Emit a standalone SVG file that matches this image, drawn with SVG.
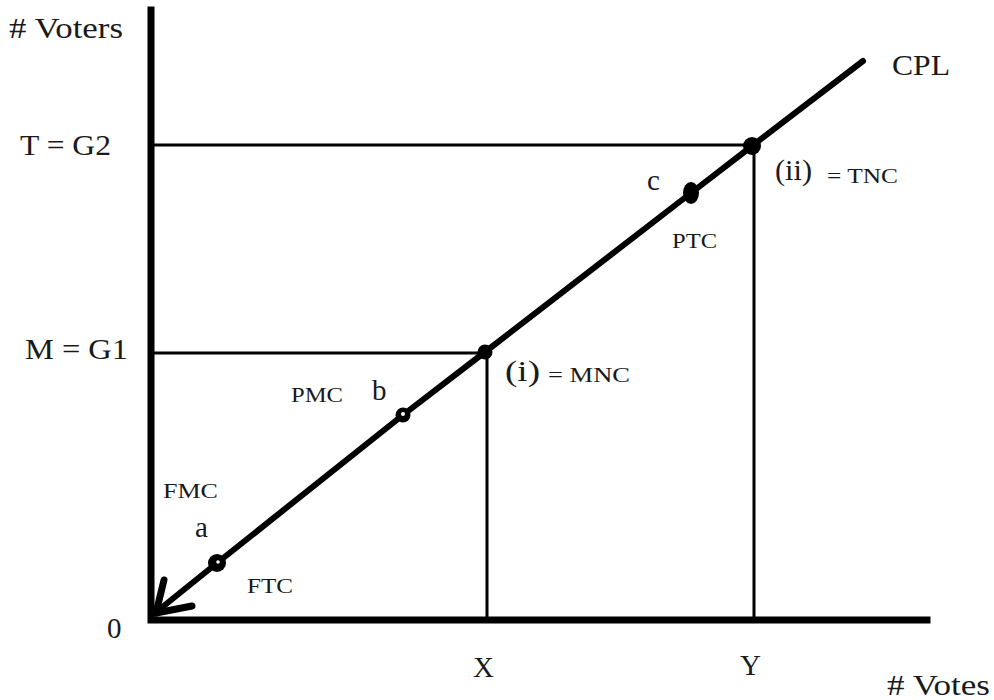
<svg xmlns="http://www.w3.org/2000/svg" width="994" height="700" viewBox="0 0 994 700">
<style>
.big{font-family:"Liberation Serif","Times New Roman",serif;font-size:29px;fill:#1a1a1a}
.sm{font-family:"Liberation Serif","Times New Roman",serif;font-size:22px;fill:#1a1a1a}
.axis{stroke:#000;stroke-width:7;fill:none;stroke-linecap:square}
.guide{stroke:#000;stroke-width:3;fill:none}
.cpl{stroke:#000;stroke-width:6;fill:none;stroke-linecap:round;stroke-linejoin:round}
.barb{stroke:#000;stroke-width:7;fill:none;stroke-linecap:round}
</style>
<rect width="994" height="700" fill="#fff"/>
<g id="connectors">
<line class="guide" x1="151" y1="145" x2="753" y2="145"/>
<line class="guide" x1="754" y1="146" x2="754" y2="620"/>
<line class="guide" x1="151" y1="353" x2="486" y2="353"/>
<line class="guide" x1="487" y1="352" x2="487" y2="620"/>
<polyline class="cpl" points="155,613 217,563 403,415 485,352 691,193 752,146 863,61"/>
<line class="barb" x1="156" y1="613" x2="164" y2="580"/>
<line class="barb" x1="156" y1="613" x2="192" y2="606"/>
</g>
<g id="axes">
<polyline class="axis" points="151,10 151,620 927,620"/>
</g>
<g id="point-a"><circle cx="217" cy="563" r="9" fill="#000"/><circle cx="218" cy="562" r="1.8" fill="#fff"/></g>
<g id="point-b"><circle cx="403" cy="415" r="7.5" fill="#000"/><circle cx="403" cy="414" r="2" fill="#fff"/></g>
<g id="point-c"><ellipse cx="691" cy="193" rx="8" ry="11" fill="#000"/></g>
<g id="point-i"><circle cx="485" cy="352" r="7.5" fill="#000"/></g>
<g id="point-ii"><circle cx="752" cy="146" r="9" fill="#000"/></g>
<g id="labels">
<text class="big" x="9" y="38" textLength="114" lengthAdjust="spacingAndGlyphs">#  Voters</text>
<text class="big" x="20" y="155" textLength="91" lengthAdjust="spacingAndGlyphs">T = G2</text>
<text class="big" x="25" y="359" textLength="103" lengthAdjust="spacingAndGlyphs">M = G1</text>
<text class="big" x="107" y="638">0</text>
<text class="big" x="473" y="677">X</text>
<text class="big" x="740" y="675">Y</text>
<text class="big" x="887" y="695" textLength="103" lengthAdjust="spacingAndGlyphs">#  Votes</text>
<text class="big" x="892" y="75" textLength="58" lengthAdjust="spacingAndGlyphs">CPL</text>
<text class="big" x="195" y="537">a</text>
<text class="big" x="372" y="400">b</text>
<text class="big" x="647" y="190">c</text>
<text class="sm" x="163" y="498" textLength="55" lengthAdjust="spacingAndGlyphs">FMC</text>
<text class="sm" x="247" y="593" textLength="46" lengthAdjust="spacingAndGlyphs">FTC</text>
<text class="sm" x="291" y="402" textLength="52" lengthAdjust="spacingAndGlyphs">PMC</text>
<text class="sm" x="672" y="248" textLength="45" lengthAdjust="spacingAndGlyphs">PTC</text>
<text class="big" x="505" y="381" textLength="35" lengthAdjust="spacingAndGlyphs">(i)</text>
<text class="sm" x="548" y="382" textLength="82" lengthAdjust="spacingAndGlyphs">= MNC</text>
<text class="big" x="775" y="180" textLength="37" lengthAdjust="spacingAndGlyphs">(ii)</text>
<text class="sm" x="827" y="183" textLength="71" lengthAdjust="spacingAndGlyphs">= TNC</text>
</g>
</svg>
